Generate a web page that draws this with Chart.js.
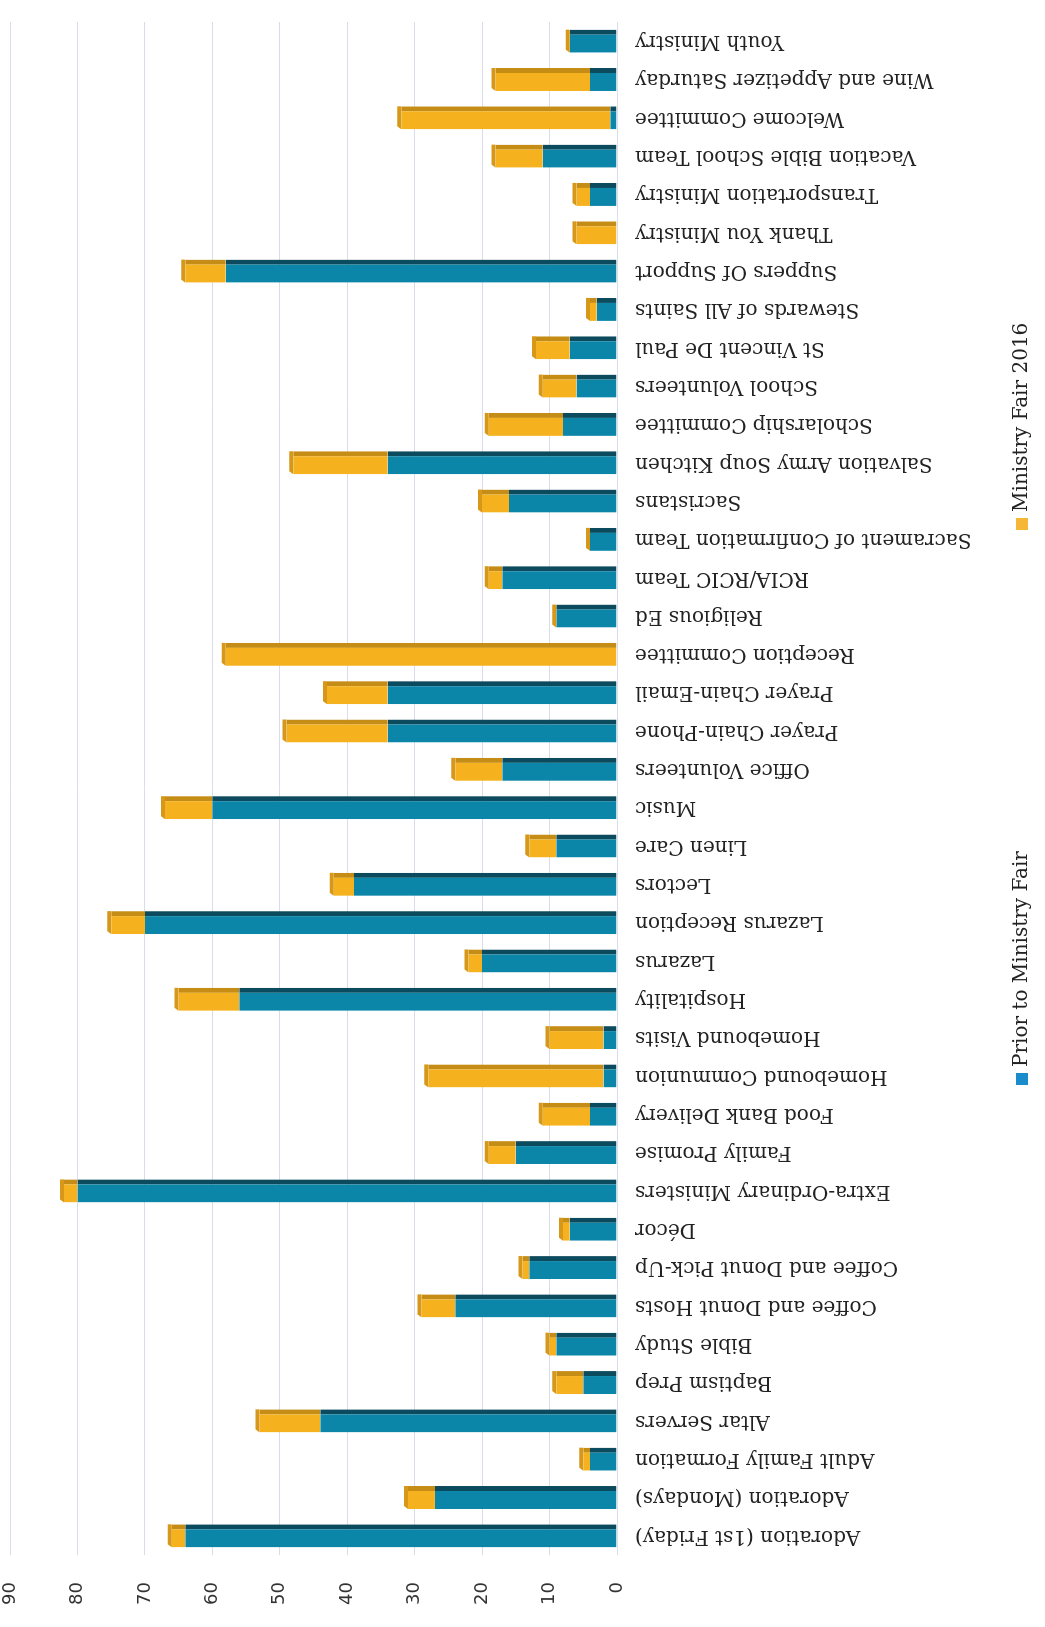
<!DOCTYPE html>
<html>
<head>
<meta charset="utf-8">
<script src="https://cdn.jsdelivr.net/npm/chart.js@4.4.1/dist/chart.umd.min.js"></script>
<style>
  html, body { margin: 0; padding: 0; background: #fff; overflow: hidden; }
  body { width: 1045px; height: 1627px; position: relative; }
  /* chart is laid out as a normal column chart, then turned a quarter left like the scan */
  #page {
    position: absolute; left: 0; top: 0;
    width: 1627px; height: 1045px;
    transform-origin: 0 0;
    transform: translate(0, 1627px) rotate(-90deg);
  }
  #chart-box { position: absolute; left: 0; top: 0; width: 1627px; height: 1045px; }
  .legend-item {
    position: absolute; top: 1007px;
    font: 20px "DejaVu Serif", serif; color: #222;
    white-space: nowrap; line-height: 26px;
  }
  .legend-item span {
    display: inline-block; width: 12px; height: 12px; margin-right: 6px;
    vertical-align: -1px;
  }
</style>
</head>
<body>
<div id="page">
  <div id="chart-box"><canvas id="ministryChart"></canvas></div>
  <div class="legend-item" style="left:542px"><span style="background:#1a8bcb"></span>Prior to Ministry Fair</div>
  <div class="legend-item" style="left:1097px"><span style="background:#f6b737"></span>Ministry Fair 2016</div>
</div>

<script>
const categories = [
  'Adoration (1st Friday)', 'Adoration (Mondays)', 'Adult Family Formation', 'Altar Servers',
  'Baptism Prep', 'Bible Study', 'Coffee and Donut Hosts', 'Coffee and Donut Pick-Up', 'Décor',
  'Extra-Ordinary Ministers', 'Family Promise', 'Food Bank Delivery', 'Homebound Communion',
  'Homebound Visits', 'Hospitality', 'Lazarus', 'Lazarus Reception', 'Lectors', 'Linen Care',
  'Music', 'Office Volunteers', 'Prayer Chain-Phone', 'Prayer Chain-Email', 'Reception Committee',
  'Religious Ed', 'RCIA/RCIC Team', 'Sacrament of Confirmation Team', 'Sacristans',
  'Salvation Army Soup Kitchen', 'Scholarship Committee', 'School Volunteers', 'St Vincent De Paul',
  'Stewards of All Saints', 'Suppers Of Support', 'Thank You Ministry', 'Transportation Ministry',
  'Vacation Bible School Team', 'Welcome Committee', 'Wine and Appetizer Saturday', 'Youth Ministry'
];

const priorToFair = [64, 27, 4, 44, 5, 9, 24, 13, 7, 80, 15, 4, 2, 2, 56, 20, 70, 39, 9, 60,
                     17, 34, 34, 0, 9, 17, 4, 16, 34, 8, 6, 7, 3, 58, 0, 4, 11, 1, 4, 7];
const fair2016 = [2, 4, 1, 9, 4, 1, 5, 1, 1, 2, 4, 7, 26, 8, 9, 2, 5, 3, 4, 7,
                  7, 15, 9, 58, 0, 2, 0, 4, 14, 11, 5, 5, 1, 6, 6, 2, 7, 31, 14, 0];

const valueTicks = [0, 10, 20, 30, 40, 50, 60, 70, 80, 90];

// end cap of each stack, a darker orange sliver like the 3D bars
const capPlugin = {
  id: 'barCaps',
  afterDatasetsDraw(chart) {
    const ctx = chart.ctx;
    const meta = chart.getDatasetMeta(1);
    ctx.save();
    meta.data.forEach(bar => {
      const left = bar.x - bar.width / 2;
      const right = bar.x + bar.width / 2;
      ctx.fillStyle = '#d7981a';
      ctx.beginPath();
      ctx.moveTo(left, bar.y);
      ctx.lineTo(left + 3, bar.y - 4);
      ctx.lineTo(right, bar.y - 4);
      ctx.lineTo(right, bar.y);
      ctx.closePath();
      ctx.fill();
    });
    ctx.restore();
  }
};

new Chart(document.getElementById('ministryChart'), {
  type: 'bar',
  data: {
    labels: categories,
    datasets: [
      {
        label: 'Prior to Ministry Fair',
        data: priorToFair,
        backgroundColor: '#0b86a9',
        borderColor: '#0c4b5e',
        borderWidth: { top: 0, right: 5, bottom: 0, left: 0 },
        borderSkipped: false
      },
      {
        label: 'Ministry Fair 2016',
        data: fair2016,
        backgroundColor: '#f5b21e',
        borderColor: '#c58d15',
        borderWidth: { top: 0, right: 5, bottom: 0, left: 0 },
        borderSkipped: false
      }
    ]
  },
  options: {
    responsive: true,
    maintainAspectRatio: false,
    animation: false,
    categoryPercentage: 1,
    barPercentage: 0.6,
    layout: { padding: { top: 10, right: 22, left: 0, bottom: 0 } },
    plugins: {
      legend: { display: false },
      tooltip: { enabled: false }
    },
    scales: {
      x: {
        stacked: true,
        grid: { display: false },
        border: { display: false },
        ticks: {
          autoSkip: false,
          minRotation: 90,
          maxRotation: 90,
          padding: 10,
          color: '#222',
          font: { family: 'DejaVu Serif', size: 20 }
        },
        afterFit(scale) { scale.height = 428; }
      },
      y: {
        stacked: true,
        min: valueTicks[0],
        max: valueTicks[valueTicks.length - 1],
        grid: { color: '#d9dce9', lineWidth: 1, drawTicks: false },
        border: { display: false },
        ticks: {
          stepSize: 10,
          padding: 27,
          color: '#333',
          font: { family: 'DejaVu Sans', size: 18 }
        },
        afterFit(scale) {
          scale.width = 72;
          scale.paddingTop = 0;
          scale.paddingBottom = 0;
        }
      }
    }
  },
  plugins: [capPlugin]
});
</script>
</body>
</html>
